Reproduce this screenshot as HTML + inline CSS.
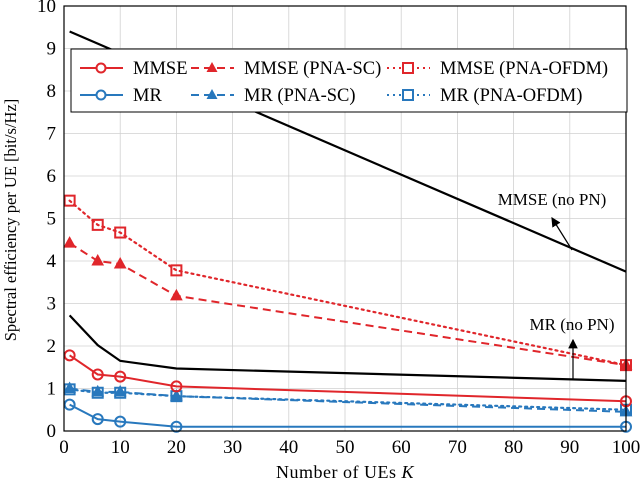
<!DOCTYPE html>
<html><head><meta charset="utf-8"><style>
body{margin:0;background:#fff}
svg{font-family:"Liberation Serif",serif}
</style></head><body>
<svg id="c" width="640" height="485" viewBox="0 0 640 485" xmlns="http://www.w3.org/2000/svg"></svg>
<script>
const K=[1,6,10,20,100];
const mmseNoPN=[9.4,null,null,null,3.75];
const mrNoPN=[2.72,2.02,1.65,1.47,1.18];
const mmse=[1.78,1.33,1.28,1.05,0.7];
const mr=[0.62,0.28,0.22,0.1,0.1];
const mmseSC=[4.42,4.0,3.93,3.18,1.55];
const mmseOFDM=[5.42,4.85,4.67,3.78,1.55];
const mrSC=[1.0,0.92,0.92,0.82,0.45];
const mrOFDM=[0.98,0.9,0.9,0.82,0.5];
const xTicks=[0,10,20,30,40,50,60,70,80,90,100];
const yTicks=[0,1,2,3,4,5,6,7,8,9,10];
const NS="http://www.w3.org/2000/svg";
const svg=document.getElementById('c');
const X0=64,X1=626,Y0=431,Y1=6;
const sx=v=>X0+(X1-X0)*v/100, sy=v=>Y0-(Y0-Y1)*v/10;
function el(t,a,p){const e=document.createElementNS(NS,t);for(const k in a)e.setAttribute(k,a[k]);(p||svg).appendChild(e);return e;}
const RED="#e0262b",BLUE="#2878bd";
xTicks.forEach(t=>{const g=el('line',{x1:sx(t),x2:sx(t),y1:Y1,y2:Y0,stroke:'#d0d0d0','stroke-width':0.8});

const l=el('text',{x:sx(t),y:Y0+22,'text-anchor':'middle','font-size':19});l.textContent=t;
});
yTicks.forEach(t=>{const g=el('line',{x1:X0,x2:X1,y1:sy(t),y2:sy(t),stroke:'#d0d0d0','stroke-width':0.8});

const l=el('text',{x:X0-8,y:sy(t)+6,'text-anchor':'end','font-size':19});l.textContent=t;
});
function series(vals,color,dash,marker,name,w){
 const pts=[];vals.forEach((v,i)=>{if(v!==null)pts.push([sx(K[i]),sy(v)]);});
 const p=el('polyline',{points:pts.map(q=>q.join(',')).join(' '),fill:'none',stroke:color,'stroke-width':w||2,'stroke-dasharray':dash||'','stroke-linecap':dash==='2,4'?'round':'butt'});
 
 pts.forEach(q=>{let m;
  if(marker==='o')m=el('circle',{cx:q[0],cy:q[1],r:5,fill:'none',stroke:color,'stroke-width':2});
  else if(marker==='t')m=el('polygon',{points:`${q[0]},${q[1]-6} ${q[0]-5.5},${q[1]+4} ${q[0]+5.5},${q[1]+4}`,fill:color,stroke:color});
  else if(marker==='s')m=el('rect',{x:q[0]-5,y:q[1]-5,width:10,height:10,fill:'none',stroke:color,'stroke-width':2});
  if(m){}
 });
}
series(mmseNoPN,'#000','', null,'mmse-no-pn',2.2);
series(mrNoPN,'#000','',null,'mr-no-pn',2.2);
series(mmseOFDM,RED,'2,4','s','mmse-pna-ofdm',2.2);
series(mmseSC,RED,'8,5','t','mmse-pna-sc',2);
series(mrSC,BLUE,'8,5','t','mr-pna-sc',2);
series(mrOFDM,BLUE,'2,4','s','mr-pna-ofdm',2.2);
series(mmse,RED,'','o','mmse',2);
series(mr,BLUE,'','o','mr',2);
const fr=el('rect',{x:X0,y:Y1,width:X1-X0,height:Y0-Y1,fill:'none',stroke:'#000','stroke-width':1.2});

el('defs',{}).innerHTML='<marker id="ah" markerWidth="8" markerHeight="8" refX="7" refY="4" orient="auto"><path d="M0,0 L8,4 L0,8 z" fill="#000"/></marker>';
const a1=el('line',{x1:572,y1:250,x2:552,y2:218,stroke:'#000','stroke-width':1.2,'marker-end':'url(#ah)'});

const t1=el('text',{x:552,y:205,'text-anchor':'middle','font-size':17});t1.textContent='MMSE (no PN)';

const a2=el('line',{x1:573,y1:380,x2:573,y2:340,stroke:'#000','stroke-width':1.2,'marker-end':'url(#ah)'});

const t2=el('text',{x:572,y:330,'text-anchor':'middle','font-size':17});t2.textContent='MR (no PN)';

const lg=el('g',{});
el('rect',{x:71,y:49,width:556,height:63,fill:'#fff',stroke:'#000','stroke-width':1},lg);
const items=[[80,68,RED,'','o','MMSE'],[191,68,RED,'8,5','t','MMSE (PNA-SC)'],[387,68,RED,'2,4','s','MMSE (PNA-OFDM)'],
[80,95,BLUE,'','o','MR'],[191,95,BLUE,'8,5','t','MR (PNA-SC)'],[387,95,BLUE,'2,4','s','MR (PNA-OFDM)']];
items.forEach(it=>{const [x,y,c,d,m,lab]=it;const g=el('g',{},lg);
 
 el('line',{x1:x,x2:x+43,y1:y,y2:y,stroke:c,'stroke-width':2,'stroke-dasharray':d},g);
 const cx=x+21;
 if(m==='o')el('circle',{cx:cx,cy:y,r:4.5,fill:'#fff',stroke:c,'stroke-width':2},g);
 else if(m==='t')el('polygon',{points:`${cx},${y-6} ${cx-5.5},${y+4} ${cx+5.5},${y+4}`,fill:c},g);
 else el('rect',{x:cx-5,y:y-5,width:10,height:10,fill:'#fff',stroke:c,'stroke-width':2},g);
 const t=el('text',{x:x+53,y:y+6,'font-size':18.5},g);t.textContent=lab;});
const xt=el('text',{x:345,y:478,'text-anchor':'middle','font-size':18,'letter-spacing':'0.5'});xt.innerHTML='Number of UEs <tspan font-style="italic">K</tspan>';

const yt=el('text',{x:0,y:0,'text-anchor':'middle','font-size':16.5,transform:'translate(16,220) rotate(-90)'});yt.textContent='Spectral efficiency per UE [bit/s/Hz]';

</script>
</body></html>
